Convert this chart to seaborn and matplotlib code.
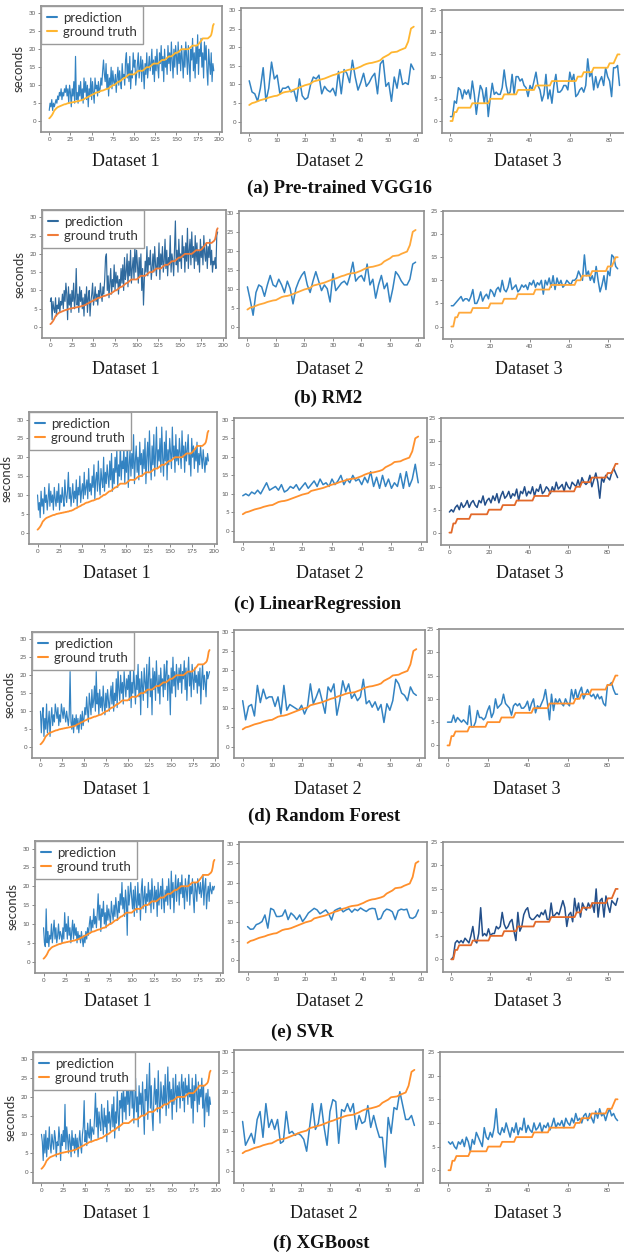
import matplotlib
matplotlib.use("Agg")
import matplotlib.pyplot as plt
import numpy as np
import pandas as pd
import seaborn as sns

# ground truth (sorted run times), shared by every model
gt_d1 = [0.8, 1.0, 1.3, 1.6, 2.0, 2.5, 3.0, 3.2, 3.5, 3.7,
         3.9, 4.0, 4.1, 4.2, 4.3, 4.4, 4.5, 4.6, 4.7, 4.7,
         4.8, 4.9, 5.0, 5.0, 5.1, 5.1, 5.2, 5.2, 5.3, 5.3,
         5.4, 5.4, 5.5, 5.5, 5.6, 5.6, 5.7, 5.8, 5.8, 5.9,
         6.0, 6.1, 6.3, 6.4, 6.5, 6.6, 6.8, 6.9, 7.0, 7.1,
         7.3, 7.4, 7.5, 7.6, 7.8, 7.9, 8.0, 8.0, 8.1, 8.2,
         8.3, 8.4, 8.5, 8.5, 8.6, 8.7, 8.8, 8.9, 9.0, 9.0,
         9.1, 9.3, 9.5, 9.6, 9.8, 10.0, 10.0, 10.1, 10.3, 10.5,
         10.7, 10.9, 11.0, 11.0, 11.2, 11.4, 11.6, 11.8, 12.0, 12.0,
         12.2, 12.4, 12.6, 12.8, 13.0, 13.0, 13.0, 13.0, 13.0, 13.0,
         13.0, 13.2, 13.4, 13.6, 13.8, 14.0, 14.0, 14.0, 14.0, 14.0,
         14.0, 14.2, 14.4, 14.6, 14.8, 15.0, 15.0, 15.0, 15.0, 15.2,
         15.4, 15.6, 15.8, 16.0, 16.0, 16.0, 16.0, 16.0, 16.0, 16.2,
         16.4, 16.6, 16.8, 17.0, 17.0, 17.0, 17.0, 17.2, 17.4, 17.6,
         17.8, 18.0, 18.0, 18.0, 18.0, 18.2, 18.4, 18.6, 18.8, 19.0,
         19.0, 19.0, 19.2, 19.4, 19.6, 19.8, 20.0, 20.0, 20.0, 20.0,
         20.0, 20.0, 20.0, 20.0, 20.0, 20.2, 20.4, 20.6, 20.8, 21.0,
         21.0, 21.0, 21.0, 21.0, 21.0, 21.2, 21.4, 21.7, 22.0, 22.3,
         22.6, 23.0, 23.0, 23.0, 23.0, 23.0, 23.0, 23.0, 23.2, 23.4,
         23.6, 24.0, 25.0, 26.5, 27.0]
gt_d2 = [4.5, 5.0, 5.2, 5.5, 5.8, 6.0, 6.2, 6.5, 6.7, 6.9,
         7.0, 7.4, 7.8, 8.0, 8.1, 8.3, 8.6, 8.9, 9.2, 9.5,
         9.8, 10.0, 10.2, 10.8, 11.0, 11.2, 11.4, 11.6, 11.9, 12.2,
         12.5, 12.7, 13.0, 13.3, 13.5, 13.8, 14.0, 14.1, 14.2, 14.5,
         14.8, 15.2, 15.5, 15.7, 15.8, 16.0, 16.2, 16.5, 17.2, 17.6,
         18.0, 18.6, 18.7, 18.8, 19.2, 19.5, 19.8, 21.5, 25.0, 25.5]
gt_d3 = [0, 0, 2, 2, 3, 3, 3, 3, 3, 3,
         3, 4, 4, 4, 4, 4, 4, 4, 4, 4,
         5, 5, 5, 5, 5, 5, 5, 6, 6, 6,
         6, 6, 6, 6, 7, 7, 7, 7, 7, 7,
         7, 7, 7, 8, 8, 8, 8, 8, 8, 8,
         8, 9, 9, 9, 9, 9, 9, 9, 9, 9,
         9, 9, 9, 9, 10, 10, 10, 11, 11, 11,
         11, 11, 12, 12, 12, 12, 12, 12, 12, 12,
         13, 13, 13, 14, 15, 15]

# (a) Pre-trained VGG16
vgg_d1 = [3, 5, 4, 6, 3, 5, 4, 5, 6, 5, 7, 6, 8, 7, 9, 6, 8, 7, 9, 8,
          10, 7, 9, 5, 10, 8, 4, 9, 7, 11, 5, 18, 6, 8, 5, 10, 7, 11, 6, 9,
          5, 12, 8, 11, 6, 10, 4, 9, 7, 12, 6, 11, 8, 5, 12, 9, 10, 7, 11, 8,
          9, 12, 10, 14, 17, 13, 11, 16, 9, 13, 7, 12, 10, 15, 9, 14, 11, 10, 13, 8,
          12, 15, 10, 14, 11, 9, 16, 12, 13, 10, 17, 19, 12, 16, 11, 18, 9, 14, 12, 19,
          15, 17, 10, 13, 16, 19, 12, 15, 18, 11, 17, 14, 9, 16, 13, 19, 12, 15, 18, 14,
          16, 20, 13, 17, 11, 18, 14, 20, 15, 12, 19, 16, 21, 14, 18, 11, 20, 15, 17, 13,
          21, 16, 19, 14, 22, 17, 12, 20, 15, 21, 18, 13, 22, 16, 19, 14, 21, 17, 12, 20,
          15, 22, 18, 13, 21, 16, 11, 20, 17, 23, 14, 19, 12, 21, 16, 24, 13, 20, 18, 23,
          15, 19, 12, 22, 17, 21, 14, 10, 20, 16, 13, 19, 11, 16, 14]
vgg_d2 = [11, 8, 7.5, 5.5, 9, 14.5, 5.5, 9, 16, 11.5,
          12.5, 7.5, 9, 9, 9.5, 8, 8.5, 5.5, 11.5, 7,
          6, 6.5, 10, 12, 11.5, 12.5, 7.5, 9.5, 8.5, 8,
          9, 7, 13.5, 7.5, 14, 13, 10.5, 16.5, 12, 8.5,
          10.5, 13, 9.5, 10.5, 12, 13, 7.5, 15.5, 16.5, 9.5,
          10.5, 5.5, 12, 9, 14, 10, 10.5, 10, 15.5, 14]
vgg_d3 = [1, 1, 4.5, 4, 7.5, 7, 5, 7, 6, 7,
          5, 9, 6, 1.5, 5, 8, 7, 4, 7.5, 1,
          5, 8.5, 6, 6.5, 6, 6, 7.5, 11.5, 8, 6,
          6.5, 10.5, 6, 10, 10, 9, 9.5, 8, 7.5, 5.5,
          8, 7, 9, 11, 8, 7, 4.5, 6, 10.5, 5,
          7, 4, 8, 10.5, 6.5, 6.5, 7, 8, 8, 7,
          11, 9, 10.5, 5.5, 6, 7, 7.5, 6.5, 8, 14,
          10, 11, 7, 10, 7.5, 9, 10, 8, 12, 10,
          9, 5.5, 12, 12, 12.5, 8]

# (b) RM2
rm2_d1 = [7, 8, 2, 7, 5, 4, 8, 3, 6, 5, 8, 4, 7, 6, 9, 5, 10, 7, 12, 9,
          2, 11, 6, 9, 4, 10, 7, 12, 5, 8, 16, 6, 9, 4, 11, 7, 10, 5, 8, 3,
          9, 6, 11, 4, 8, 10, 3, 7, 9, 12, 6, 8, 11, 7, 9, 6, 10, 8, 12, 9,
          7, 11, 9, 13, 19, 20, 10, 14, 8, 12, 16, 9, 13, 11, 17, 10, 15, 12, 14, 9,
          13, 11, 16, 12, 17, 10, 19, 13, 15, 20, 11, 18, 14, 21, 12, 16, 19, 13, 22, 15,
          21, 17, 12, 19, 14, 20, 10, 16, 6, 13, 18, 15, 22, 14, 19, 17, 21, 13, 16, 20,
          15, 22, 17, 14, 19, 16, 23, 13, 20, 17, 22, 15, 18, 24, 16, 21, 14, 19, 17, 25,
          15, 20, 18, 14, 22, 29, 17, 21, 15, 24, 18, 20, 16, 25, 19, 22, 15, 23, 18, 27,
          16, 21, 24, 17, 26, 19, 22, 16, 25, 18, 23, 17, 21, 15, 24, 19, 22, 17, 25, 20,
          18, 23, 16, 22, 19, 24, 17, 21, 15, 18, 17, 19, 16, 25, 26]
rm2_d2 = [10.5, 7, 3, 9, 11, 10.5, 8, 11, 13.5, 11,
          10.5, 12.5, 11, 9, 12, 10, 6, 10, 12, 13.5,
          14.5, 11, 9, 12, 14.5, 12, 9.5, 11, 10, 6.5,
          14, 9.5, 10.5, 11.5, 12, 11, 13.5, 17, 12, 13,
          13.5, 12, 16.5, 11, 12.5, 7.5, 11, 13.5, 10, 11.5,
          6.5, 10, 14.5, 13.5, 12, 11, 11, 12.5, 16.5, 17]
rm2_d3 = [4.5, 4.5, 5, 5.5, 6, 6.5, 5.5, 6, 6, 5.5,
          6.5, 8, 5, 5, 6, 7.5, 5.5, 6.5, 7, 6,
          8, 7.5, 6.5, 8, 8.5, 7.5, 10, 8, 7.5, 8.5,
          10.5, 8, 8.5, 9, 7.5, 8, 9, 8.5, 9, 8,
          9.5, 9, 10, 8.5, 9.5, 9, 10, 7, 10, 9,
          10.5, 8.5, 11, 8, 10.5, 9, 10, 8.5, 9, 10,
          9.5, 9, 10, 10, 10.5, 12, 11, 10, 15.5, 11,
          12, 10, 11, 9.5, 13, 10, 7.5, 9, 11, 8,
          12, 11, 15.5, 15, 13, 12.5]

# (c) LinearRegression
lr_d1 = [10, 6, 8, 4, 11, 7, 9, 5, 12, 8, 10, 6, 9, 13, 7, 11, 8, 10, 6, 12,
         9, 7, 11, 8, 13, 6, 10, 8, 12, 9, 7, 14, 10, 8, 11, 16, 9, 12, 7, 10,
         13, 8, 11, 9, 14, 7, 12, 10, 15, 8, 11, 13, 9, 16, 10, 12, 14, 9, 17, 11,
         13, 10, 15, 12, 18, 9, 14, 16, 11, 19, 13, 10, 17, 14, 12, 20, 11, 16, 13, 18,
         15, 12, 19, 14, 21, 11, 17, 13, 20, 16, 22, 12, 18, 15, 24, 14, 19, 17, 23, 13,
         20, 16, 25, 12, 18, 22, 15, 21, 17, 26, 13, 19, 23, 16, 20, 14, 24, 18, 21, 15,
         22, 17, 25, 13, 20, 24, 16, 27, 19, 14, 23, 18, 26, 15, 21, 28, 17, 22, 19, 25,
         16, 28, 20, 15, 24, 19, 27, 14, 22, 18, 25, 21, 17, 28, 20, 23, 16, 26, 19, 22,
         18, 25, 21, 17, 27, 20, 23, 16, 24, 19, 22, 26, 18, 21, 15, 25, 20, 23, 17, 22,
         19, 24, 16, 21, 18, 23, 20, 17, 22, 19, 16, 20, 18, 21, 19]
lr_d2 = [9.5, 10, 9.5, 10.5, 10, 11, 10, 11.5, 13, 11,
         11.5, 12, 11, 12.5, 10.5, 11, 12, 11.5, 12.5, 11,
         12, 13, 11.5, 12.5, 13.5, 12, 14, 12.5, 13, 12,
         14, 12.5, 13.5, 15, 12.5, 14, 13, 15, 13.5, 14,
         12.5, 14.5, 13, 16, 12, 14.5, 11.5, 15, 12, 14,
         11.5, 13, 12, 15.5, 11.5, 16, 12, 14, 18, 13]
lr_d3 = [4.5, 5, 4.5, 5.5, 6, 5, 6.5, 5.5, 6, 7,
         5.5, 6.5, 7, 6, 5.5, 7, 6.5, 8, 6, 7,
         7.5, 6.5, 8, 7, 8.5, 6.5, 8, 9, 7.5, 8,
         9, 7.5, 8.5, 8, 9.5, 7, 9, 8.5, 10, 8,
         9, 8.5, 10, 8, 9.5, 9, 10.5, 8.5, 9, 10,
         9.5, 8.5, 10, 9, 11, 9.5, 10, 10.5, 9, 11,
         10, 9.5, 11, 10.5, 10, 11.5, 10, 12, 11, 10.5,
         11, 12.5, 10, 11.5, 13, 11, 7.5, 12, 11, 12.5,
         12, 11.5, 13, 14, 13, 12]

# (d) Random Forest
rf_d1 = [10, 4, 9, 11, 3, 8, 5, 12, 4, 7, 10, 3, 8, 11, 6, 9, 7, 12, 10, 8,
         11, 6, 9, 7, 12, 10, 8, 11, 9, 7, 10, 8, 6, 9, 21, 7, 5, 9, 4, 8,
         6, 9, 5, 8, 4, 7, 9, 5, 10, 6, 8, 11, 9, 14, 10, 7, 15, 12, 9, 16,
         11, 13, 17, 10, 21, 12, 15, 9, 16, 11, 14, 10, 17, 12, 9, 15, 11, 16, 13, 10,
         14, 17, 12, 18, 10, 15, 13, 19, 11, 22, 16, 13, 20, 15, 18, 12, 21, 17, 14, 19,
         16, 20, 13, 24, 11, 18, 15, 22, 17, 12, 20, 16, 23, 14, 19, 9, 21, 17, 13, 22,
         18, 15, 23, 11, 20, 25, 14, 19, 9, 22, 16, 21, 13, 24, 18, 15, 20, 12, 22, 17,
         19, 14, 23, 16, 21, 24, 13, 20, 18, 9, 22, 15, 25, 17, 21, 14, 23, 19, 16, 22,
         18, 23, 15, 21, 19, 24, 16, 22, 13, 20, 25, 17, 21, 14, 23, 19, 16, 22, 18, 20,
         15, 21, 17, 22, 12, 19, 23, 16, 20, 18, 14, 21, 19, 20, 21]
rf_d2 = [12, 7, 10.5, 11, 8, 16, 11.5, 15, 12.5, 13,
         13, 10.5, 13, 8.5, 16, 9.5, 11, 10.5, 10, 9.5,
         10.8, 8.5, 10.3, 16.4, 11.2, 13, 15.1, 12, 8.7, 15.6,
         14.3, 16.4, 8.2, 12, 17.2, 14.3, 16.4, 12.6, 13.8, 12,
         13, 17.6, 11.2, 12, 10.3, 11.7, 9.5, 11, 6.3, 11.2,
         9.5, 12, 17.6, 16.4, 14, 13.4, 12, 15.6, 14, 13.4]
rf_d3 = [5, 5, 5, 6.5, 5, 6, 5.5, 5, 5.5, 5,
         4.5, 8.5, 4, 4, 5, 7.5, 6, 6, 5.5, 6,
         7.5, 8.5, 6, 7, 10, 8, 8.5, 9, 11, 9,
         8.5, 8, 6.5, 8.5, 9, 8.5, 9, 8, 8, 8.5,
         9.5, 7.5, 9, 10, 7, 8.5, 8, 9, 10, 12,
         9, 5.5, 11, 7.5, 10, 9, 10, 9, 8.5, 10,
         9, 8.5, 12, 10, 12, 10, 11.5, 12.5, 10, 11,
         12, 11, 10.5, 11, 10, 11, 10, 10.5, 9, 8.5,
         13, 13, 13.5, 12, 11, 11]

# (e) SVR
svr_d1 = [9, 5, 4, 14, 5, 8, 4, 7, 6, 10, 5, 8, 11, 6, 9, 5, 7, 10, 6, 8,
          7, 5, 9, 6, 13, 8, 10, 6, 12, 7, 9, 5, 8, 11, 6, 10, 7, 9, 5, 8,
          6, 7, 5, 8, 6, 4, 7, 5, 8, 6, 9, 7, 10, 12, 8, 11, 9, 14, 10, 12,
          9, 13, 18, 11, 15, 8, 14, 12, 16, 10, 13, 9, 15, 11, 14, 12, 10, 16, 13, 11,
          15, 12, 17, 14, 11, 16, 13, 18, 15, 21, 14, 17, 12, 19, 16, 7, 20, 15, 18, 21,
          17, 14, 19, 12, 20, 16, 13, 21, 15, 18, 11, 19, 22, 14, 17, 20, 13, 18, 16, 21,
          15, 19, 13, 22, 17, 14, 20, 16, 19, 12, 21, 15, 18, 20, 14, 22, 17, 13, 19, 16,
          20, 15, 22, 18, 14, 24, 17, 21, 13, 19, 23, 16, 20, 22, 15, 21, 18, 23, 17, 20,
          14, 22, 19, 16, 21, 23, 15, 20, 18, 22, 17, 13, 21, 19, 16, 22, 20, 18, 21, 17,
          19, 23, 15, 20, 22, 14, 18, 20, 16, 21, 19, 18, 20, 19, 20]
svr_d2 = [8.7, 8, 8.1, 9.2, 9.5, 10, 11.7, 8.3, 13.4, 13,
          11.3, 11.3, 11.5, 13, 10.5, 12.2, 11.5, 10.5, 11.7, 10,
          11, 12.2, 12.8, 13.4, 13, 12, 12.5, 13, 12, 10.4,
          12.8, 13.2, 13.5, 12.5, 13, 13.3, 12.4, 13.2, 12.8, 13.5,
          13, 12.6, 13.2, 13.4, 13.3, 10.5, 10.8, 12.5, 13.2, 13,
          12.5, 10.5, 12.8, 13.2, 13, 13.2, 11, 10.8, 11.3, 13]
svr_d3 = [0, 0.5, 3.5, 4, 3.5, 4, 3.5, 4.5, 4, 3.5,
          5, 7, 4, 3.5, 5.5, 11, 5, 5.5, 5, 6.5,
          5, 5.5, 5.5, 7, 6.5, 7, 10, 7.5, 6.5, 7,
          8, 8.5, 6, 4, 10, 6, 7, 9.5, 10.5, 11,
          9, 8.5, 8.5, 9, 9.5, 9, 10, 9.5, 10.5, 8.5,
          8.5, 12, 9, 9.5, 10, 9.5, 11, 12.5, 11, 7,
          9.5, 10, 8, 13, 10, 12, 9, 12, 11, 10.5,
          12, 11, 12, 10, 15, 9, 12.5, 13, 9, 13.5,
          11.5, 10, 12.5, 12, 11.5, 13]

# (f) XGBoost
xgb_d1 = [10, 8, 3, 10, 5, 11, 4, 9, 6, 12, 7, 5, 10, 8, 6, 11, 9, 4, 8, 7,
          12, 9, 3, 10, 7, 11, 8, 18, 6, 12, 9, 5, 10, 8, 4, 11, 7, 9, 5, 10,
          6, 9, 4, 8, 11, 7, 5, 10, 12, 19, 8, 11, 7, 13, 10, 9, 14, 8, 12, 11,
          10, 15, 21, 12, 17, 9, 16, 13, 11, 18, 14, 10, 17, 12, 15, 8, 19, 13, 16, 11,
          14, 18, 12, 20, 9, 16, 13, 22, 15, 11, 19, 17, 21, 13, 24, 16, 20, 14, 27, 18,
          23, 15, 21, 26, 17, 22, 13, 19, 25, 16, 20, 12, 23, 18, 21, 15, 24, 17, 10, 22,
          19, 26, 14, 21, 29, 17, 23, 15, 11, 20, 25, 18, 22, 16, 27, 19, 13, 24, 20, 17,
          23, 18, 26, 15, 21, 28, 17, 24, 19, 22, 14, 25, 18, 21, 26, 16, 23, 20, 24, 17,
          22, 26, 19, 24, 16, 25, 21, 23, 18, 26, 20, 22, 17, 25, 13, 23, 19, 26, 21, 16,
          24, 18, 22, 20, 25, 17, 23, 12, 19, 21, 16, 22, 15, 20, 18]
xgb_d2 = [12.5, 6.5, 8, 9.5, 7, 13, 15, 8.5, 17, 11,
          13, 10.5, 13, 7, 7.5, 15, 9.5, 10, 9, 9.5,
          9, 8, 5, 11, 17, 10.5, 12, 17, 11, 6.5,
          15, 18, 17.5, 7, 15.5, 15, 17, 15, 17, 10.5,
          14, 12, 12.5, 16.5, 11, 14, 11, 8.5, 8.5, 1,
          13.5, 9.5, 16, 15.5, 20, 16.5, 13, 13, 14, 11.5]
xgb_d3 = [6, 5.5, 6, 5, 4.5, 6, 5.5, 6.5, 5, 7,
          6, 4, 6.5, 5.5, 8, 7, 6, 5, 9, 7,
          6.5, 8, 7, 9, 13, 8, 7.5, 9, 8, 10,
          8.5, 7, 9, 8, 10, 7.5, 9, 8.5, 11, 8,
          9.5, 8.5, 8, 10, 8.5, 9, 10, 8, 9.5, 9,
          10, 8.5, 9.5, 11, 9, 10, 9.5, 10.5, 9, 11,
          10, 9.5, 11, 10, 12, 10.5, 11, 10, 11.5, 12,
          10.5, 12, 11, 10, 12.5, 11, 13, 11.5, 12, 10.5,
          12, 13, 11.5, 12, 11, 10.5]

captions = ["(a) Pre-trained VGG16", "(b) RM2", "(c) LinearRegression",
            "(d) Random Forest", "(e) SVR", "(f) XGBoost"]
predictions = [[vgg_d1, vgg_d2, vgg_d3], [rm2_d1, rm2_d2, rm2_d3],
               [lr_d1, lr_d2, lr_d3], [rf_d1, rf_d2, rf_d3],
               [svr_d1, svr_d2, svr_d3], [xgb_d1, xgb_d2, xgb_d3]]
truths = [gt_d1, gt_d2, gt_d3]
dataset_names = ["Dataset 1", "Dataset 2", "Dataset 3"]

# layout of the scanned figure, in pixels (left, top, right, bottom)
W, H = 624, 1255
panel_boxes = [
    [(41, 6, 222, 132), (241, 8, 422, 133), (442, 10, 628, 133)],
    [(42, 210, 226, 338), (239, 211, 424, 338), (443, 211, 626, 339)],
    [(29, 412, 217, 544), (234, 418, 427, 542), (441, 418, 626, 545)],
    [(32, 632, 218, 758), (234, 630, 425, 758), (439, 629, 626, 758)],
    [(35, 841, 223, 973), (239, 842, 427, 972), (443, 842, 626, 972)],
    [(33, 1052, 219, 1183), (234, 1050, 423, 1183), (440, 1052, 626, 1183)],
]
label_x = [(126, 330, 528), (126, 330, 529), (117, 330, 530),
           (117, 328, 527), (118, 330, 528), (117, 324, 528)]
label_y = [161, 369, 574, 790, 1002, 1213]
caption_pos = [(340, 188), (328, 398), (318, 604), (324, 816), (302, 1032), (321, 1243)]

gt_colors = ["#ffb630", "#ffa83a", "#ff912e", "#ff8f2b", "#ff8f2b", "#ff8f2b"]
blue = "#3383c2"
# a few panels of the scan print darker
dark_panels = {(1, 0): ("#2f6a9e", "#f07c3a"), (2, 2): ("#234f8a", "#e2692a"),
               (4, 2): ("#234f8a", "#e2692a")}

y_limits = [(-3, 32), (-3, 30.5), (-2.7, 25)]
y_ticks = [np.arange(0, 31, 5), np.arange(0, 31, 5), np.arange(0, 26, 5)]
x_ticks = [np.arange(0, 201, 25), np.arange(0, 61, 10), np.arange(0, 81, 20)]

sns.set_style("white")
plt.rcParams["font.family"] = ["Lato", "DejaVu Sans"]


def box(l, t, r, b):
    return [l / W, 1 - b / H, (r - l) / W, (b - t) / H]


fig = plt.figure(figsize=(6.24, 12.55), dpi=100)

for i in range(6):
    for j in range(3):
        ax = fig.add_axes(box(*panel_boxes[i][j]))
        pred = predictions[i][j]
        truth = truths[j]
        c_pred, c_gt = dark_panels.get((i, j), (blue, gt_colors[i]))
        df = pd.DataFrame({"x": np.arange(len(pred)), "prediction": pred})
        dg = pd.DataFrame({"x": np.arange(len(truth)), "truth": truth})
        sns.lineplot(data=df, x="x", y="prediction", ax=ax, color=c_pred,
                     lw=0.85 if j == 0 else 1.1, label="prediction" if j == 0 else None)
        sns.lineplot(data=dg, x="x", y="truth", ax=ax, color=c_gt,
                     lw=1.3, label="ground truth" if j == 0 else None)
        n = len(truth) - 1
        ax.set_xlim(-0.05 * n, 1.05 * n)
        ax.set_ylim(*y_limits[j])
        ax.set_xticks(x_ticks[j])
        ax.set_yticks(y_ticks[j])
        ax.set_xlabel("")
        ax.tick_params(bottom=True, left=True, labelsize=4.5, length=2,
                       width=0.5, colors="#5a5a5a", pad=1.5)
        for sp in ax.spines.values():
            sp.set_color("#8f8f8f")
            sp.set_linewidth(1.2)
        if j == 0:
            ax.set_ylabel("seconds", fontsize=9.5, color="#333333", labelpad=3)
            leg = ax.legend(loc="upper left", borderaxespad=0, fontsize=9.5,
                            fancybox=False, framealpha=1, edgecolor="#9a9a9a",
                            handlelength=0.8, handletextpad=0.4, borderpad=0.45,
                            labelspacing=0.15)
            for h in leg.get_lines():
                h.set_linewidth(1.5)
            for t in leg.get_texts():
                t.set_color("#333333")
        else:
            ax.set_ylabel("")
            if ax.get_legend() is not None:
                ax.get_legend().remove()
        fig.text(label_x[i][j] / W, 1 - label_y[i] / H, dataset_names[j],
                 ha="center", va="center", fontsize=13, family="Liberation Serif",
                 color="#1a1a1a")
    cx, cy = caption_pos[i]
    fig.text(cx / W, 1 - cy / H, captions[i], ha="center", va="center",
             fontsize=13.5, family="Liberation Serif", weight="bold", color="#111111")

fig.savefig("out.png", dpi=100)
